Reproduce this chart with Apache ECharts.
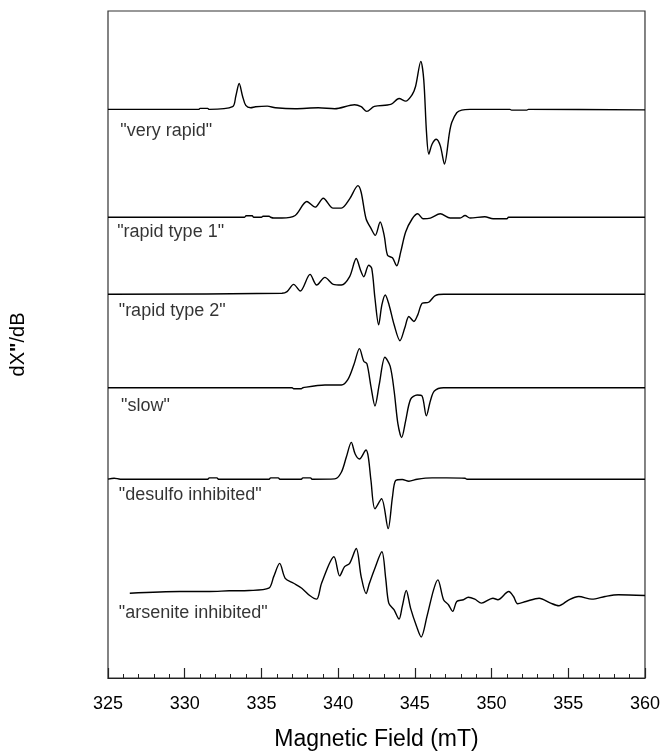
<!DOCTYPE html>
<html>
<head>
<meta charset="utf-8">
<script src="https://cdn.jsdelivr.net/npm/echarts@6/dist/echarts.min.js"></script>
<style>
  html, body { margin: 0; padding: 0; background: #fff; }
  #chart { width: 663px; height: 756px; }
</style>
</head>
<body>
<div id="chart"></div>
<script>
// EPR derivative spectra, stacked with vertical offsets.
// Each spectrum: [field (mT), signal] pairs; signal in arbitrary units relative to its own baseline.
const FONT = '"Liberation Sans", Arial, Helvetica, sans-serif';

const fieldTicks = [325, 330, 335, 340, 345, 350, 355, 360];

const spectrumNames = ['"very rapid"', '"rapid type 1"', '"rapid type 2"', '"slow"', '"desulfo inhibited"', '"arsenite inhibited"'];

// baseline offsets used to stack the spectra
const offsets = [572, 463.5, 386, 292, 200, 85];

const veryRapid = [
  [325.0, 0], [330.9, 0], [331.0, 1], [331.5, 1], [331.6, 0], [333.12, 2.7], [333.33, 13.3],
  [333.55, 26], [333.77, 13.3], [333.98, 4], [334.3, 1.7], [334.62, 2.7], [335.38, 3.3],
  [335.91, 1.7], [337.2, 0.7], [338.71, 1.7], [339.78, 0.7], [341.07, 4.7], [341.5, 2.7],
  [341.87, -2], [342.36, 3], [343.43, 5], [343.97, 11], [344.4, 8.3], [344.83, 15],
  [345.05, 23.3], [345.39, 48.3], [345.58, 30], [345.76, -23.3], [345.91, -45], [346.12, -35],
  [346.4, -30], [346.66, -36.7], [346.93, -55], [347.26, -23], [347.41, -13], [347.73, -3.3],
  [348.05, -0.7], [348.59, 0], [351.2, 0], [351.3, -0.7], [352.3, -0.7], [352.4, 0], [360, -0.5]
];

const rapidType1 = [
  [325, 0], [333.9, 0], [334.0, 1.5], [334.4, 1.5], [334.5, 0], [335.0, 0], [335.1, 1],
  [335.5, 1], [335.6, 0], [335.8, -0.8], [336.2, -0.8], [336.34, -0.8], [337.2, 1.8],
  [337.96, 15.8], [338.5, 10.2], [339.03, 19.2], [339.67, 9.2], [340.21, 9.2], [340.75, 18.5],
  [341.29, 31.8], [341.5, 25.2], [341.82, -1.5], [342.15, -11.5], [342.42, -18.2],
  [342.74, -4.8], [343.0, -18.2], [343.22, -38.2], [343.54, -40.8], [343.82, -48.8],
  [344.08, -34.8], [344.4, -14.8], [344.83, -1.5], [345.19, 3.5], [345.54, -1.5],
  [346.01, -0.8], [346.66, 3.5], [347.3, -0.8], [347.95, -0.8], [348.27, 1.8], [348.6, -0.8],
  [349.56, 0.5], [350.1, -1.5], [351.0, -1.5], [351.1, 0], [360, 0]
];

const rapidType2 = [
  [325, 0], [336.34, 1], [336.67, 2.7], [337.1, 10], [337.53, 3.3], [338.17, 20], [338.6, 9.3],
  [339.14, 17], [339.68, 10], [340.21, 9.3], [340.75, 17.7], [341.18, 36], [341.46, 24.3],
  [341.67, 17.7], [341.99, 29.3], [342.19, 26], [342.4, -4], [342.64, -30.7], [342.85, -10.7],
  [343.07, -0.7], [343.32, -10.7], [343.65, -30.7], [344.03, -46.7], [344.34, -34],
  [344.61, -22.3], [344.94, -27.3], [345.19, -20.7], [345.48, -9], [345.9, -8],
  [346.33, -1.3], [346.87, 0], [360, 0]
];

const slow = [
  [325, 0], [337.0, 0], [337.1, -1], [337.6, -1], [337.7, 0], [339.14, 2.7], [340.21, 2.7],
  [340.64, 8.3], [341.03, 23.3], [341.39, 39.3], [341.67, 26.7], [341.88, 24], [342.15, 0],
  [342.4, -18.3], [342.68, 3.3], [343.05, 30.7], [343.39, 21.7], [343.65, -3.3], [343.9, -36.7],
  [344.14, -50], [344.4, -33.3], [344.72, -11.7], [345.15, -7.3], [345.47, -8.3],
  [345.75, -28.3], [346.01, -13.3], [346.27, -3.3], [346.87, 0], [360, 0]
];

const desulfo = [
  [325, 0], [325.4, 1], [325.8, 0], [331.5, 0], [331.6, 1.3], [332.1, 1.3], [332.2, 0],
  [335.5, 0], [335.6, 1.3], [336.1, 1.3], [336.2, 0], [337.6, 0], [337.7, 1.3], [338.2, 1.3],
  [338.3, 0], [339.78, 0.3], [340.21, 7], [340.53, 22], [340.86, 37], [341.11, 25.3],
  [341.39, 20.3], [341.82, 29.3], [341.97, 22], [342.14, -1.3], [342.4, -29.7],
  [342.83, -19.7], [343.26, -49.7], [343.54, -18], [343.75, -1.3], [344.18, -0.3],
  [344.61, -2], [345.15, 0], [346.12, 1.3], [347.08, 1.3], [348.27, 1], [348.4, 0], [360, 0]
];

const arsenite = [
  [326.42, 0.3], [329.68, 2], [331.62, 2], [332.9, 2.7], [334.2, 3], [335.48, 5.3], [335.8, 17],
  [336.19, 30.3], [336.55, 15.3], [337.1, 10.3], [337.63, 5.3], [338.17, -2.3], [338.6, -5.7],
  [338.92, 10.3], [339.73, 37], [340.1, 17.7], [340.42, 27], [340.75, 30.3], [341.18, 45.3],
  [341.5, 17], [341.82, 0], [342.04, 10.3], [342.36, 24], [342.85, 42], [343.1, 15.3],
  [343.3, -9.7], [343.64, -16.3], [343.97, -25.7], [344.18, -13], [344.44, 3], [344.72, -14.7],
  [345.11, -33], [345.41, -43.7], [345.79, -23], [346.22, 3.7], [346.5, 13.7], [346.87, -6.3],
  [347.19, -11.3], [347.47, -18], [347.73, -8], [348.16, -6.3], [348.48, -3.7], [348.91, -5.7],
  [349.34, -9.7], [350.09, -4.7], [350.41, -6.3], [351.12, 2], [351.43, -3], [351.7, -10.3],
  [352.24, -8], [353.1, -4.7], [353.85, -9.7], [354.39, -12.3], [355.04, -6.3], [355.68, -3],
  [356.54, -5.7], [357.4, -3], [358.26, -1.3], [360, -2]
];

const spectra = [veryRapid, rapidType1, rapidType2, slow, desulfo, arsenite];

// label anchor for each spectrum name: [field, signal offset below baseline]
const labelAnchors = [[325.8, -22], [325.6, -15], [325.7, -17], [325.85, -18], [325.7, -16], [325.7, -20]];

const chart = echarts.init(document.getElementById('chart'), null, { renderer: 'canvas' });

const series = spectra.map((pts, i) => ({
  type: 'line',
  name: spectrumNames[i],
  data: pts.map(p => [p[0], p[1] + offsets[i]]),
  showSymbol: false,
  smooth: 0.3,
  lineStyle: { color: '#000', width: 1.4 },
  silent: true,
  animation: false
}));

// spectrum names drawn as scatter labels anchored in data space
series.push({
  type: 'scatter',
  data: labelAnchors.map((a, i) => ({ value: [a[0], offsets[i] + a[1]], name: spectrumNames[i] })),
  symbolSize: 0,
  silent: true,
  animation: false,
  label: {
    show: true,
    position: 'right',
    distance: 0,
    formatter: p => p.name,
    color: '#000',
    fontSize: 18,
    fontFamily: FONT
  }
});

chart.setOption({
  backgroundColor: '#fff',
  animation: false,
  grid: {
    left: 104, right: 16, top: 11, bottom: 74,
    show: true, borderColor: '#333', borderWidth: 1.2, backgroundColor: 'transparent'
  },
  xAxis: {
    type: 'value',
    min: fieldTicks[0],
    max: fieldTicks[fieldTicks.length - 1],
    interval: 5,
    name: 'Magnetic Field (mT)',
    nameLocation: 'middle',
    nameGap: 50,
    nameTextStyle: { fontSize: 23, color: '#000', fontFamily: FONT },
    axisLine: { show: true, lineStyle: { color: '#222', width: 1.2 } },
    axisTick: { show: true, inside: true, length: 10, lineStyle: { color: '#222', width: 1.2 } },
    minorTick: { show: true, splitNumber: 5, length: 4, lineStyle: { color: '#222', width: 1 } },
    axisLabel: { fontSize: 18, color: '#000', fontFamily: FONT, margin: 17 },
    splitLine: { show: false }
  },
  yAxis: {
    type: 'value',
    min: 0,
    max: 671,
    name: 'dX{b|"}/dB',
    nameLocation: 'middle',
    nameRotate: 90,
    nameGap: 80,
    nameTextStyle: {
      fontSize: 20, color: '#000', fontFamily: FONT,
      rich: { b: { fontSize: 20, fontWeight: 'bold', color: '#000', fontFamily: FONT } }
    },
    axisLine: { show: false },
    axisTick: { show: false },
    axisLabel: { show: false },
    splitLine: { show: false }
  },
  series: series
});
</script>
</body>
</html>
